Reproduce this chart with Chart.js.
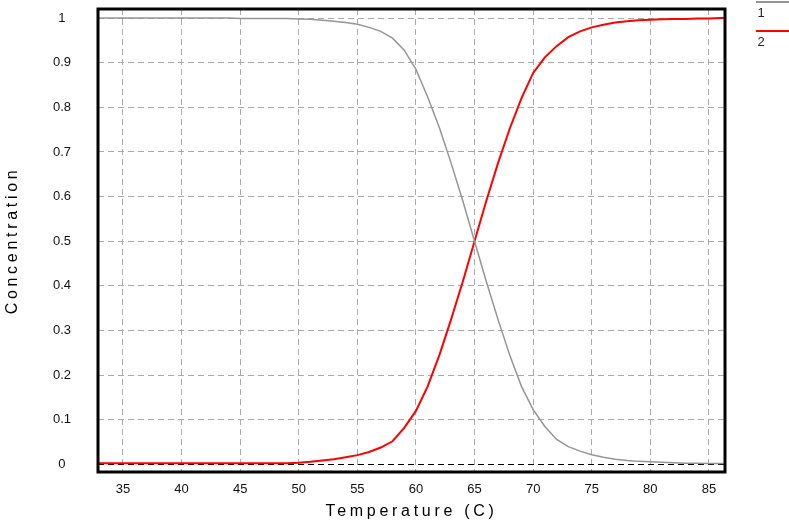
<!DOCTYPE html>
<html>
<head>
<meta charset="utf-8">
<script src="https://cdn.jsdelivr.net/npm/chart.js@4"></script>
<style>
  html, body { margin: 0; padding: 0; background: #fff; }
  #wrap { width: 789px; height: 521px; }
</style>
</head>
<body>
<div id="wrap"><canvas id="myChart"></canvas></div>
<script>
// temperature (C) sampled every degree
const temps = [32, 33, 34, 35, 36, 37, 38, 39, 40, 41, 42, 43, 44, 45, 46, 47, 48, 49,
  50, 51, 52, 53, 54, 55, 56, 57, 58, 59, 60, 61, 62, 63, 64, 65, 66, 67, 68, 69,
  70, 71, 72, 73, 74, 75, 76, 77, 78, 79, 80, 81, 82, 83, 84, 85, 86, 87];

// species 1 (grey, falls off)
const series1 = [1.0, 1.0, 1.0, 1.0, 1.0, 1.0, 1.0, 1.0, 1.0, 1.0, 1.0, 1.0, 1.0, 0.999, 0.999, 0.999, 0.999, 0.999,
  0.998, 0.997, 0.995, 0.993, 0.99, 0.986, 0.979, 0.97, 0.955, 0.928, 0.885, 0.823, 0.754, 0.675, 0.59, 0.5, 0.41, 0.325, 0.245, 0.175,
  0.123, 0.085, 0.056, 0.04, 0.03, 0.022, 0.016, 0.012, 0.009, 0.007, 0.006, 0.005, 0.004, 0.003, 0.003, 0.002, 0.002, 0.002];

// species 2 (red, rises)
const series2 = [0.003, 0.003, 0.003, 0.003, 0.003, 0.003, 0.003, 0.003, 0.003, 0.003, 0.003, 0.003, 0.003, 0.003, 0.003, 0.003, 0.003, 0.003,
  0.004, 0.006, 0.009, 0.012, 0.016, 0.021, 0.028, 0.038, 0.052, 0.082, 0.12, 0.175, 0.245, 0.325, 0.41, 0.5, 0.59, 0.675, 0.752, 0.82,
  0.877, 0.912, 0.937, 0.957, 0.97, 0.979, 0.985, 0.99, 0.993, 0.995, 0.996, 0.997, 0.998, 0.998, 0.999, 0.999, 1.0, 1.0];

const seriesLabels = ['1', '2'];
const xTicks = [35, 40, 45, 50, 55, 60, 65, 70, 75, 80, 85];
const yTicks = [0, 0.1, 0.2, 0.3, 0.4, 0.5, 0.6, 0.7, 0.8, 0.9, 1];

const FONT = "'Liberation Sans', Arial, sans-serif";

// wide-spaced axis titles like the original
const baseDrawTitle = Chart.Scale.prototype.drawTitle;
Chart.Scale.prototype.drawTitle = function (area) {
  this.ctx.save();
  this.ctx.letterSpacing = '3.7px';
  baseDrawTitle.call(this, area);
  this.ctx.restore();
};

function noPad(s) {
  s.paddingTop = 0;
  s.paddingBottom = 0;
  s.paddingLeft = 0;
  s.paddingRight = 0;
}

const frame = {
  id: 'frame',
  afterDraw(chart) {
    const { ctx, chartArea: a } = chart;
    ctx.save();
    ctx.strokeStyle = '#000';
    ctx.lineWidth = 3;
    ctx.strokeRect(a.left, a.top, a.right - a.left, a.bottom - a.top);

    // legend: short line with the label under it
    ctx.font = '13px ' + FONT;
    ctx.textAlign = 'center';
    ctx.textBaseline = 'middle';
    chart.data.datasets.forEach((ds, i) => {
      const y = 2 + i * 29;
      ctx.strokeStyle = ds.borderColor;
      ctx.lineWidth = 2;
      ctx.beginPath();
      ctx.moveTo(756, y);
      ctx.lineTo(789, y);
      ctx.stroke();
      ctx.fillStyle = '#222';
      ctx.fillText(ds.label, 761, y + 11);
    });
    ctx.restore();
  }
};

const ctx = document.getElementById('myChart');

new Chart(ctx, {
  type: 'line',
  data: {
    datasets: [{
      label: seriesLabels[0],
      data: temps.map((t, i) => ({ x: t, y: series1[i] })),
      borderColor: '#959595',
      borderWidth: 1.5,
      pointRadius: 0,
      tension: 0,
    },
    {
      label: seriesLabels[1],
      data: temps.map((t, i) => ({ x: t, y: series2[i] })),
      borderColor: '#ff0000',
      borderWidth: 2,
      pointRadius: 0,
      tension: 0,
    }]
  },
  plugins: [frame],
  options: {
    responsive: true,
    maintainAspectRatio: false,
    animation: false,
    layout: { autoPadding: false, padding: { left: 0, top: 9, right: 64, bottom: 0 } },
    plugins: {
      legend: { display: false },
      tooltip: { enabled: false }
    },
    scales: {
      x: {
        type: 'linear',
        min: 32.87,
        max: 86.37,
        afterBuildTicks: (s) => { s.ticks = xTicks.map(v => ({ value: v })); },
        afterFit: (s) => { s.height = 49; noPad(s); },
        grid: { color: '#aaaaaa', lineWidth: 1, drawTicks: false },
        border: { display: false, dash: [6, 4] },
        ticks: { color: '#111', font: { family: FONT, size: 13 }, padding: 10, maxRotation: 0 },
        title: {
          display: true,
          text: 'Temperature (C)',
          color: '#000',
          font: { family: FONT, size: 16 },
          padding: { top: 0, bottom: 0 }
        }
      },
      y: {
        min: -0.0168,
        max: 1.0202,
        afterBuildTicks: (s) => { s.ticks = yTicks.map(v => ({ value: v })); },
        afterFit: (s) => { s.width = 98; noPad(s); },
        grid: {
          color: (c) => (c.tick && c.tick.value === 0 ? '#000' : '#aaaaaa'),
          lineWidth: 1,
          drawTicks: false
        },
        border: { display: false, dash: [6, 4] },
        ticks: {
          color: '#111',
          font: { family: FONT, size: 13 },
          padding: 27,
          crossAlign: 'center',
          callback: (v) => String(Math.round(v * 10) / 10)
        },
        title: {
          display: true,
          text: 'Concentration',
          color: '#000',
          font: { family: FONT, size: 16 },
          padding: { top: 3, bottom: 0 }
        }
      }
    }
  }
});
</script>
</body>
</html>
